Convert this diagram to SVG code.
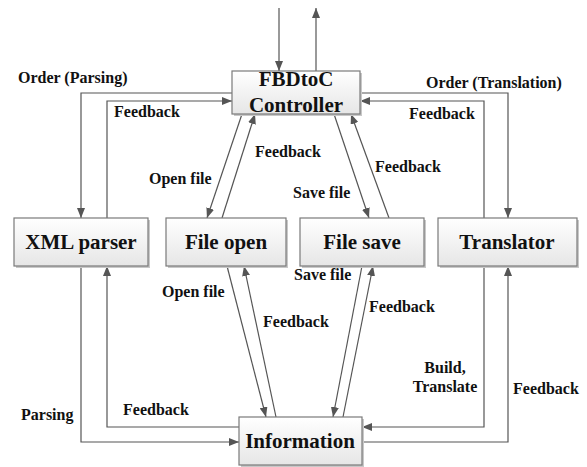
<svg xmlns="http://www.w3.org/2000/svg" width="587" height="467" viewBox="0 0 587 467">
  <defs>
    <linearGradient id="boxFill" x1="0" y1="0" x2="0" y2="1">
      <stop offset="0" stop-color="#ffffff"/>
      <stop offset="1" stop-color="#e6e6e6"/>
    </linearGradient>
    <marker id="head" viewBox="0 0 10 8" refX="10" refY="4" markerWidth="10" markerHeight="8" markerUnits="userSpaceOnUse" orient="auto">
      <path d="M0,0 L10,4 L0,8 Z" fill="#555"/>
    </marker>
  </defs>

  <rect width="587" height="467" fill="#ffffff"/>

  <g id="connectors" fill="none" stroke="#555" stroke-width="1.2" marker-end="url(#head)">
    <!-- external in/out of the controller -->
    <line x1="279" y1="8" x2="279" y2="71"/>
    <line x1="316" y1="71" x2="316" y2="8"/>
    <!-- controller <-> XML parser -->
    <polyline points="232,93 81,93 81,218"/>
    <polyline points="107,218 107,101 232,101"/>
    <!-- controller <-> translator -->
    <polyline points="360,93 508,93 508,218"/>
    <polyline points="484,218 484,101 360,101"/>
    <!-- XML parser <-> information -->
    <polyline points="81,266 81,442 239,442"/>
    <polyline points="239,427 107,427 107,266"/>
    <!-- translator <-> information -->
    <polyline points="484,266 484,427 362,427"/>
    <polyline points="362,442 508,442 508,266"/>
    <!-- controller <-> file open -->
    <line x1="242" y1="114" x2="207" y2="218"/>
    <line x1="222" y1="218" x2="255" y2="114"/>
    <!-- controller <-> file save -->
    <line x1="334" y1="114" x2="369" y2="218"/>
    <line x1="389" y1="218" x2="351" y2="114"/>
    <!-- file open <-> information -->
    <line x1="227" y1="266" x2="266" y2="417"/>
    <line x1="276" y1="417" x2="244" y2="266"/>
    <!-- file save <-> information -->
    <line x1="362" y1="266" x2="333" y2="417"/>
    <line x1="343" y1="417" x2="373" y2="266"/>
  </g>

  <g id="labels" fill="#111">
    <text style="font-family:'Liberation Serif',serif !important;font-size:16px;font-weight:bold" x="18" y="83">Order (Parsing)</text>
    <text style="font-family:'Liberation Serif',serif !important;font-size:16px;font-weight:bold" x="114" y="117">Feedback</text>
    <text style="font-family:'Liberation Serif',serif !important;font-size:16px;font-weight:bold" x="149" y="184">Open file</text>
    <text style="font-family:'Liberation Serif',serif !important;font-size:16px;font-weight:bold" x="255" y="157">Feedback</text>
    <text style="font-family:'Liberation Serif',serif !important;font-size:16px;font-weight:bold" x="293" y="198">Save file</text>
    <text style="font-family:'Liberation Serif',serif !important;font-size:16px;font-weight:bold" x="375" y="172">Feedback</text>
    <text style="font-family:'Liberation Serif',serif !important;font-size:16px;font-weight:bold" x="426" y="88">Order (Translation)</text>
    <text style="font-family:'Liberation Serif',serif !important;font-size:16px;font-weight:bold" x="409" y="119">Feedback</text>
    <text style="font-family:'Liberation Serif',serif !important;font-size:16px;font-weight:bold" x="294" y="280">Save file</text>
    <text style="font-family:'Liberation Serif',serif !important;font-size:16px;font-weight:bold" x="162" y="297">Open file</text>
    <text style="font-family:'Liberation Serif',serif !important;font-size:16px;font-weight:bold" x="263" y="327">Feedback</text>
    <text style="font-family:'Liberation Serif',serif !important;font-size:16px;font-weight:bold" x="369" y="312">Feedback</text>
    <text style="font-family:'Liberation Serif',serif !important;font-size:16px;font-weight:bold" text-anchor="middle" x="445" y="373">Build,</text>
    <text style="font-family:'Liberation Serif',serif !important;font-size:16px;font-weight:bold" text-anchor="middle" x="445" y="392">Translate</text>
    <text style="font-family:'Liberation Serif',serif !important;font-size:16px;font-weight:bold" x="513" y="394">Feedback</text>
    <text style="font-family:'Liberation Serif',serif !important;font-size:16px;font-weight:bold" x="21" y="420">Parsing</text>
    <text style="font-family:'Liberation Serif',serif !important;font-size:16px;font-weight:bold" x="123" y="415">Feedback</text>
  </g>

  <g id="controller">
    <rect fill="#c8c8c8" x="234" y="73" width="128" height="43"/>
    <rect fill="url(#boxFill)" stroke="#7a7a7a" stroke-width="1.2" x="232" y="71" width="128" height="43"/>
    <text style="font-family:'Liberation Serif',serif !important;font-size:21px;font-weight:bold" fill="#111" text-anchor="middle" x="296" y="86">FBDtoC</text>
    <text style="font-family:'Liberation Serif',serif !important;font-size:21px;font-weight:bold" fill="#111" text-anchor="middle" x="296" y="112">Controller</text>
  </g>

  <g id="xml-parser">
    <rect fill="#c8c8c8" x="16" y="220" width="134" height="48"/>
    <rect fill="url(#boxFill)" stroke="#7a7a7a" stroke-width="1.2" x="14" y="218" width="134" height="48"/>
    <text style="font-family:'Liberation Serif',serif !important;font-size:21px;font-weight:bold" fill="#111" text-anchor="middle" x="81" y="249">XML parser</text>
  </g>

  <g id="file-open">
    <rect fill="#c8c8c8" x="168" y="220" width="120" height="48"/>
    <rect fill="url(#boxFill)" stroke="#7a7a7a" stroke-width="1.2" x="166" y="218" width="120" height="48"/>
    <text style="font-family:'Liberation Serif',serif !important;font-size:21px;font-weight:bold" fill="#111" text-anchor="middle" x="226" y="249">File open</text>
  </g>

  <g id="file-save">
    <rect fill="#c8c8c8" x="302" y="220" width="124" height="48"/>
    <rect fill="url(#boxFill)" stroke="#7a7a7a" stroke-width="1.2" x="300" y="218" width="124" height="48"/>
    <text style="font-family:'Liberation Serif',serif !important;font-size:21px;font-weight:bold" fill="#111" text-anchor="middle" x="362" y="249">File save</text>
  </g>

  <g id="translator">
    <rect fill="#c8c8c8" x="440" y="220" width="139" height="48"/>
    <rect fill="url(#boxFill)" stroke="#7a7a7a" stroke-width="1.2" x="438" y="218" width="139" height="48"/>
    <text style="font-family:'Liberation Serif',serif !important;font-size:21px;font-weight:bold" fill="#111" text-anchor="middle" x="507" y="249">Translator</text>
  </g>

  <g id="information">
    <rect fill="#c8c8c8" x="241" y="419" width="123" height="48"/>
    <rect fill="url(#boxFill)" stroke="#7a7a7a" stroke-width="1.2" x="239" y="417" width="123" height="48"/>
    <text style="font-family:'Liberation Serif',serif !important;font-size:21px;font-weight:bold" fill="#111" text-anchor="middle" x="300" y="448">Information</text>
  </g>
</svg>
